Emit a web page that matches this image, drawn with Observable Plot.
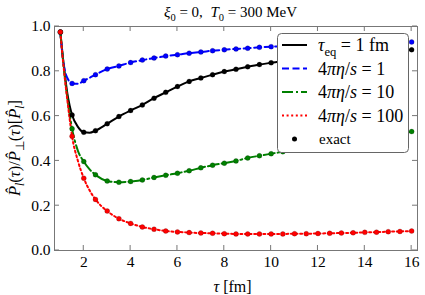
<!DOCTYPE html>
<html><head><meta charset="utf-8">
<script src="https://cdn.jsdelivr.net/npm/d3@7"></script>
<script src="https://cdn.jsdelivr.net/npm/@observablehq/plot@0.6"></script>
<style>body{margin:0;background:#fff} svg{display:block} svg text{font-family:"Liberation Serif","Times New Roman",Times,serif !important;}</style>
</head><body><div id="c"></div>
<script>
// ---- data ----
const tau = [1,1.5,2,2.5,3,3.5,4,4.5,5,5.5,6,6.5,7,7.5,8,8.5,9,9.5,10,10.5,11,11.5,12,12.5,13,13.5,14,14.5,15,15.5,16];
const exactTeq1 = [0.975,0.605,0.528,0.535,0.566,0.598,0.625,0.65,0.68,0.706,0.732,0.755,0.77,0.785,0.799,0.809,0.82,0.83,0.838,0.846,0.853,0.859,0.865,0.87,0.875,0.879,0.883,0.887,0.89,0.893,0.896];
const exactEta1 = [0.975,0.746,0.758,0.785,0.81,0.824,0.839,0.85,0.859,0.868,0.874,0.881,0.886,0.892,0.896,0.9,0.903,0.907,0.91,0.912,0.914,0.916,0.918,0.92,0.922,0.924,0.925,0.927,0.928,0.929,0.931];
const exactEta10 = [0.975,0.544,0.397,0.338,0.31,0.305,0.308,0.315,0.326,0.336,0.345,0.356,0.369,0.381,0.39,0.4,0.413,0.423,0.432,0.441,0.45,0.459,0.468,0.476,0.484,0.492,0.5,0.508,0.516,0.524,0.531];
const exactEta100 = [0.975,0.51,0.323,0.228,0.176,0.142,0.121,0.105,0.095,0.087,0.083,0.08,0.078,0.077,0.075,0.074,0.074,0.074,0.074,0.074,0.075,0.075,0.076,0.077,0.078,0.079,0.081,0.082,0.084,0.085,0.087];
// extra samples of the smooth curves in the steep early region
const extraTau = [1.1,1.2,1.3,1.4,1.75,2.25];
const curveTeq1 = [0.87,0.78,0.70,0.645,0.552,0.526];
const curveEta1 = [0.865,0.80,0.77,0.753,0.744,0.771];
const curveEta10 = [0.865,0.765,0.68,0.605,0.445,0.362];
const curveEta100 = [0.86,0.76,0.67,0.585,0.40,0.268];
const xTicks = [2,4,6,8,10,12,14,16];
const yTicks = [0,0.2,0.4,0.6,0.8,1.0];
const seriesKeys = ["teq","eta1","eta10","eta100"];

// ---- styles ----
const styles = {
  teq:   {color:"#000000", dash:null},
  eta1:  {color:"#0000ff", dash:"7,3.5"},
  eta10: {color:"#008000", dash:"11,3,2,3"},
  eta100:{color:"#ff0000", dash:"2,2.6"}
};
const exactBy = {teq:exactTeq1, eta1:exactEta1, eta10:exactEta10, eta100:exactEta100};
const curveBy = {teq:curveTeq1, eta1:curveEta1, eta10:curveEta10, eta100:curveEta100};

const points = seriesKeys.flatMap(k => tau.map((t,i)=>({s:k, tau:t, v:exactBy[k][i]})));
const curves = seriesKeys.flatMap(k => [
  ...tau.map((t,i)=>({s:k, tau:t, v:exactBy[k][i]})),
  ...extraTau.map((t,i)=>({s:k, tau:t, v:curveBy[k][i]}))
].sort((a,b)=>a.tau-b.tau));

const serif = "Liberation Serif, Times New Roman, Times, serif";
const chart = Plot.plot({
  width:425, height:295,
  marginTop:26, marginBottom:45, marginLeft:54, marginRight:8,
  x:{domain:[0.75,16.25]},
  y:{domain:[0,1]},
  style:{fontFamily:serif, fontSize:"15.5px", color:"#000", background:"#fff"},
  marks:[
    ...seriesKeys.map(k => Plot.line(curves.filter(d=>d.s===k), {x:"tau", y:"v", stroke:styles[k].color, strokeWidth:2, strokeDasharray:styles[k].dash, curve:"monotone-x"})),
    ...seriesKeys.map(k => Plot.dot(points.filter(d=>d.s===k), {x:"tau", y:"v", r:2.5, fill:styles[k].color, stroke:"#000", strokeWidth:0.3, strokeOpacity:0.6})),
    Plot.frame({stroke:"#777"}),
    Plot.axisX({ticks:xTicks, tickSize:0, tickPadding:5, label:null}),
    Plot.axisY({ticks:yTicks, tickSize:0, tickPadding:4, tickFormat:d3.format(".1f"), label:null})
  ]
});
document.getElementById("c").appendChild(chart);

const svg = d3.select(chart);
const sx = chart.scale("x"), sy = chart.scale("y");
const [X0,X1] = sx.range, [Y0,Y1] = sy.range;
const tg = svg.append("g").attr("stroke","#777").attr("stroke-width",1);
xTicks.forEach(t=>{
  const X = sx.apply(t);
  tg.append("line").attr("x1",X).attr("x2",X).attr("y1",Y0).attr("y2",Y0-5);
  tg.append("line").attr("x1",X).attr("x2",X).attr("y1",Y1).attr("y2",Y1+5);
});
yTicks.forEach(t=>{
  const Y = sy.apply(t);
  tg.append("line").attr("x1",X0).attr("x2",X0+5).attr("y1",Y).attr("y2",Y);
  tg.append("line").attr("x1",X1).attr("x2",X1-5).attr("y1",Y).attr("y2",Y);
});

function rich(sel, parts, sub){
  const sh = sub || 4;
  parts.forEach(p=>{
    const ts = sel.append("tspan").text(p.t);
    if(p.i) ts.attr("font-style","italic");
    if(p.sub){ ts.attr("font-size","0.7em").attr("dy",sh); }
    if(p.back){ ts.attr("dy",-sh); }
  });
}
function txt(x,y,anchor,size){
  return svg.append("text").attr("x",x).attr("y",y).attr("text-anchor",anchor)
    .attr("font-family",serif).attr("font-size",size).attr("fill","#000");
}
// title
rich(txt((X0+X1)/2-5,17,"middle","15px"),[{t:"ξ",i:1},{t:"0",sub:1},{t:" = 0,  ",back:1},{t:"T",i:1},{t:"0",sub:1},{t:" = 300 MeV",back:1}]);
// x label
rich(txt((X0+X1)/2-3,292,"middle","16px"),[{t:"τ",i:1},{t:" [fm]"}]);
// y label
const yl = txt(0,0,"middle","16.5px").attr("transform","translate(20,148) rotate(-90)");
rich(yl,[{t:"P\u0302",i:1},{t:"l",i:1,sub:1},{t:"(",back:1},{t:"τ",i:1},{t:")/"},{t:"P\u0302",i:1},{t:"⊥",sub:1},{t:"(",back:1},{t:"τ",i:1},{t:")["},{t:"P\u0302",i:1},{t:"l",i:1,sub:1},{t:"]",back:1}]);

// legend
svg.append("rect").attr("x",277.5).attr("y",33.5).attr("width",131).attr("height",119).attr("rx",4)
  .attr("fill","#fff").attr("stroke","#666").attr("stroke-width",1);
const legendLabels = {
  teq:[{t:"τ",i:1},{t:"eq",sub:1},{t:" = 1 fm",back:1}],
  eta1:[{t:"4"},{t:"πη",i:1},{t:"/"},{t:"s",i:1},{t:" = 1"}],
  eta10:[{t:"4"},{t:"πη",i:1},{t:"/"},{t:"s",i:1},{t:" = 10"}],
  eta100:[{t:"4"},{t:"πη",i:1},{t:"/"},{t:"s",i:1},{t:" = 100"}]
};
seriesKeys.forEach((k,i)=>{
  const y = 45 + i*23.5;
  svg.append("line").attr("x1",282).attr("x2",307).attr("y1",y).attr("y2",y)
    .attr("stroke",styles[k].color).attr("stroke-width",2).attr("stroke-dasharray",styles[k].dash);
  rich(txt(318,y+6,"start","18px"), legendLabels[k], 4.5);
});
svg.append("circle").attr("cx",294.5).attr("cy",139).attr("r",2.5).attr("fill","#000");
txt(319,144,"start","15px").text("exact");
</script></body></html>
